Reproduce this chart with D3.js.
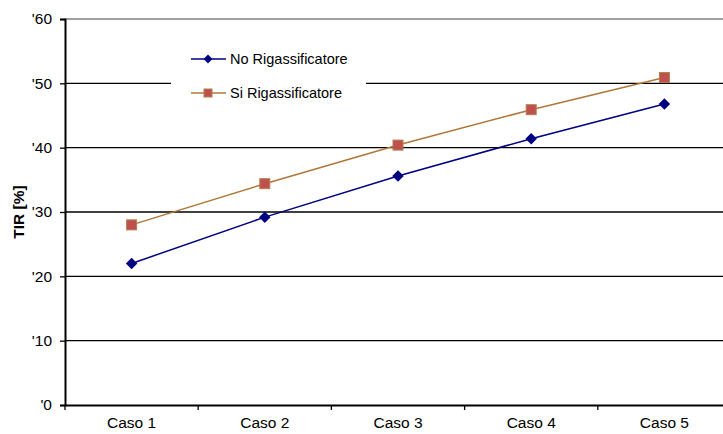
<!DOCTYPE html>
<html>
<head>
<meta charset="utf-8">
<script src="https://cdn.jsdelivr.net/npm/d3@7"></script>
<style>
  body { margin: 0; background: #fff; }
  svg { display: block; font-family: "Liberation Sans", Arial, sans-serif; }
</style>
</head>
<body>
<svg id="chart" width="723" height="434"></svg>
<script>
// Categories and the two TIR series (%)
const categories = ["Caso 1", "Caso 2", "Caso 3", "Caso 4", "Caso 5"];
const noRigassificatore = [22.0, 29.2, 35.6, 41.4, 46.8];
const siRigassificatore = [28.0, 34.4, 40.4, 45.9, 50.9];
const yTicks = [0, 10, 20, 30, 40, 50, 60];
const seriesNames = ["No Rigassificatore", "Si Rigassificatore"];

const svg = d3.select("#chart");
const margin = { left: 65, top: 19, bottom: 29 };
const plotW = 666; // extends past the window edge on the right
const height = 434;
const FONT = "Liberation Sans, Arial, sans-serif";

const x = d3.scaleBand().domain(categories).range([margin.left, margin.left + plotW]);
const y = d3.scaleLinear().domain([0, 60]).range([height - margin.bottom, margin.top]);

// Horizontal gridlines
svg.append("g")
  .selectAll("line")
  .data(yTicks.filter(d => d > 0))
  .join("line")
  .attr("x1", margin.left)
  .attr("x2", margin.left + plotW)
  .attr("y1", d => y(d))
  .attr("y2", d => y(d))
  .attr("stroke", d => d === 60 ? "#808080" : "#000")
  .attr("stroke-width", 1.3);

// Legend box (sits over the gridlines)
const legend = svg.append("g");
legend.append("rect")
  .attr("x", 171).attr("y", 40).attr("width", 195).attr("height", 70)
  .attr("fill", "#fff");

// Y axis
const yAxis = svg.append("g")
  .attr("transform", `translate(${margin.left},0)`)
  .call(d3.axisLeft(y).tickValues(yTicks).tickFormat(d => "'" + d).tickSize(5).tickPadding(8));
yAxis.attr("font-family", FONT);
yAxis.select(".domain").attr("stroke", "#000").attr("stroke-width", 2);
yAxis.selectAll(".tick line").attr("stroke", "#000").attr("stroke-width", 1.3);
yAxis.selectAll(".tick text").attr("font-size", 15.5).attr("fill", "#000");

// X axis
const xAxis = svg.append("g")
  .attr("transform", `translate(0,${y(0)})`)
  .call(d3.axisBottom(x).tickSize(0).tickPadding(12));
xAxis.attr("font-family", FONT);
xAxis.select(".domain").attr("stroke", "#000").attr("stroke-width", 2);
xAxis.selectAll(".tick text").attr("font-size", 15.5).attr("fill", "#000");
// Category separator ticks
svg.append("g")
  .selectAll("line")
  .data(categories)
  .join("line")
  .attr("x1", d => x(d)).attr("x2", d => x(d))
  .attr("y1", y(0)).attr("y2", y(0) + 5)
  .attr("stroke", "#000").attr("stroke-width", 1.3);

// Y axis title
svg.append("text")
  .attr("transform", `translate(24,${(y(0) + y(60)) / 2}) rotate(-90)`)
  .attr("text-anchor", "middle")
  .attr("font-size", 15.5)
  .attr("font-weight", "bold")
  .text("TIR [%]");

const cx = d => x(d) + x.bandwidth() / 2;
const line = d3.line().x((d, i) => cx(categories[i])).y(d => y(d));

const navy = "#000080";
const brown = "#B07838";
const squareFill = "#C0504D";

// Series lines
svg.append("path").datum(siRigassificatore)
  .attr("d", line).attr("fill", "none").attr("stroke", brown).attr("stroke-width", 1.5);
svg.append("path").datum(noRigassificatore)
  .attr("d", line).attr("fill", "none").attr("stroke", navy).attr("stroke-width", 1.5);

// Diamond marker: square rotated 45 degrees
const diamond = d3.symbol().type(d3.symbolSquare).size(66);

function drawSquares(g, data) {
  g.selectAll("rect.sq").data(data).join("rect")
    .attr("class", "sq")
    .attr("x", (d, i) => cx(categories[i]) - 5)
    .attr("y", d => y(d) - 5)
    .attr("width", 10).attr("height", 10)
    .attr("fill", squareFill).attr("stroke", "#B08050").attr("stroke-width", 1);
}

drawSquares(svg.append("g"), siRigassificatore);
svg.append("g").selectAll("path").data(noRigassificatore).join("path")
  .attr("d", diamond)
  .attr("transform", (d, i) => `translate(${cx(categories[i])},${y(d)}) rotate(45)`)
  .attr("fill", navy);

// Legend entries
const ly = [59, 93];
legend.append("line").attr("x1", 191).attr("x2", 226).attr("y1", ly[0]).attr("y2", ly[0])
  .attr("stroke", navy).attr("stroke-width", 1.5);
legend.append("path").attr("d", d3.symbol().type(d3.symbolSquare).size(40))
  .attr("transform", `translate(208,${ly[0]}) rotate(45)`).attr("fill", navy);
legend.append("line").attr("x1", 191).attr("x2", 226).attr("y1", ly[1]).attr("y2", ly[1])
  .attr("stroke", brown).attr("stroke-width", 1.5);
legend.append("rect").attr("x", 204).attr("y", ly[1] - 4).attr("width", 8).attr("height", 8)
  .attr("fill", squareFill).attr("stroke", "#B08050").attr("stroke-width", 1);
legend.selectAll("text.lbl").data(seriesNames).join("text")
  .attr("class", "lbl")
  .attr("x", 230)
  .attr("y", (d, i) => ly[i] + 5)
  .attr("font-size", 14.5)
  .text(d => d);
</script>
</body>
</html>
